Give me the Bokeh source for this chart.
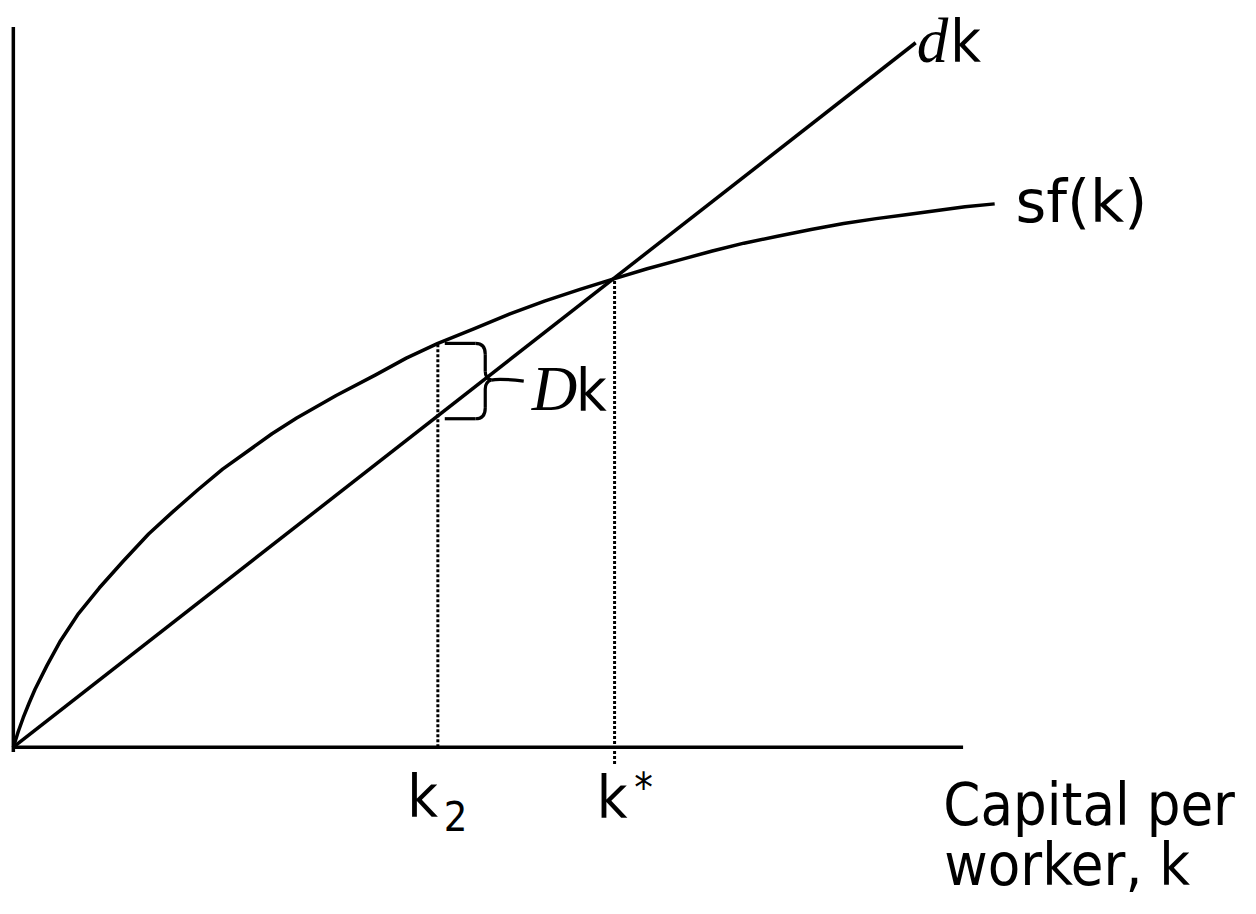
from bokeh.plotting import figure
from bokeh.models import Range1d
from bokeh.embed import file_html
from bokeh.resources import INLINE
from bokeh.core.properties import value

# ---- data ----
k_vals = [0, 5, 10, 16, 22, 34, 47, 66, 87, 111, 137, 162, 187, 212, 237, 262, 287,
          327, 367, 398, 430, 467, 503, 538, 574, 609, 642, 675, 708, 740, 774, 808,
          841, 874, 904, 934, 964, 994]
sf_vals = [0, 16, 30, 45, 59, 83, 107, 136, 162, 189, 217, 240, 262, 283, 301, 319, 335,
           358, 379, 396, 411, 426, 441, 454, 466, 477, 487, 496, 505, 513, 520, 527,
           533, 538, 542, 546, 550, 553]
dep_k = [0, 914]
dep_vals = [0, 717]
k2 = 430
kstar = 609
x_axis_end = 962
y_axis_top = 733

SANS = value("DejaVu Sans Condensed, DejaVu Sans")
SANS_W = value("DejaVu Sans")
SERIF = value("Liberation Serif")
SC = 0.985  # font scale (figure slightly smaller than the reference canvas)

p = figure(width=1240, height=898, output_backend="svg", toolbar_location=None,
           x_range=Range1d(-13, 1243), y_range=Range1d(-154, 760),
           x_axis_location=None, y_axis_location=None, min_border=0)
p.outline_line_color = None
p.grid.visible = False
p.background_fill_color = "white"

LW = 3.5
# axes drawn as lines
p.line([0, 0], [-5, y_axis_top], line_color="black", line_width=LW)
p.line([-1, x_axis_end], [0, 0], line_color="black", line_width=LW)

# curves
p.line(k_vals, sf_vals, line_color="black", line_width=LW, line_join="round")
p.line(dep_k, dep_vals, line_color="black", line_width=LW)

# dotted verticals
sf_k2 = sf_vals[k_vals.index(k2)]
sf_ks = sf_vals[k_vals.index(kstar)]
p.line([k2, k2], [0, sf_k2], line_color="black", line_width=3, line_dash="3 2")
p.line([kstar, kstar], [-17, sf_ks], line_color="black", line_width=3, line_dash="3 2")

# brace between sf(k2) and delta*k2
slope = dep_vals[1] / dep_k[1]
yt = sf_k2
yb = k2 * slope - 3
ym = (yt + yb) / 2 + 1
bx = k2 + 48
BW = 3.2
p.line([k2 + 7, bx - 10], [yt, yt], line_color="black", line_width=BW)
p.quadratic(x0=[bx - 10], y0=[yt], x1=[bx], y1=[yt - 11], cx=[bx], cy=[yt],
            line_color="black", line_width=BW)
p.line([bx, bx], [yt - 11, ym + 9], line_color="black", line_width=BW)
p.quadratic(x0=[bx], y0=[ym + 9], x1=[bx + 6], y1=[ym], cx=[bx], cy=[ym + 2],
            line_color="black", line_width=BW)
p.quadratic(x0=[bx + 6], y0=[ym], x1=[bx], y1=[ym - 9], cx=[bx], cy=[ym - 2],
            line_color="black", line_width=BW)
p.line([bx, bx], [ym - 9, yb + 11], line_color="black", line_width=BW)
p.quadratic(x0=[bx], y0=[yb + 11], x1=[bx - 10], y1=[yb], cx=[bx], cy=[yb],
            line_color="black", line_width=BW)
p.line([bx - 10, k2 + 7], [yb, yb], line_color="black", line_width=BW)
p.quadratic(x0=[bx + 6], y0=[ym], x1=[bx + 39], y1=[ym - 1], cx=[bx + 14], cy=[ym + 2],
            line_color="black", line_width=BW)

# labels (y given as baseline; shifted to compensate the renderer's baseline placement)
def txt(x, y, s, font, size, style="normal"):
    fs = size * SC
    p.text(x=[x], y=[y + 0.33 * size], text=[s], text_font=font,
           text_font_size=f"{fs:.1f}px", text_font_style=style,
           text_baseline="alphabetic", text_align="left", text_color="black")

txt(x_axis_end - 20, -78, "Capital per", SANS, 60)
txt(x_axis_end - 19, -139, "worker, k", SANS, 60)
txt(k2 - 31, -70, "k", SANS, 60)
txt(k2 + 6, -84, "2", SANS, 42)
txt(kstar - 18, -71, "k", SANS, 60)
txt(kstar + 20, -55, "*", SANS, 42)
txt(k_vals[-1] + 21, sf_vals[-1] - 17, "sf(k)", SANS_W, 60)
txt(dep_k[-1] + 1, dep_vals[-1] - 19, "d", SERIF, 64, "italic")
txt(dep_k[-1] + 35, dep_vals[-1] - 19, "k", SANS, 60)
txt(bx + 47, yb + 9, "D", SERIF, 64, "italic")
txt(bx + 92, yb + 9, "k", SANS, 60)

open("out.html", "w").write(file_html(p, INLINE))
